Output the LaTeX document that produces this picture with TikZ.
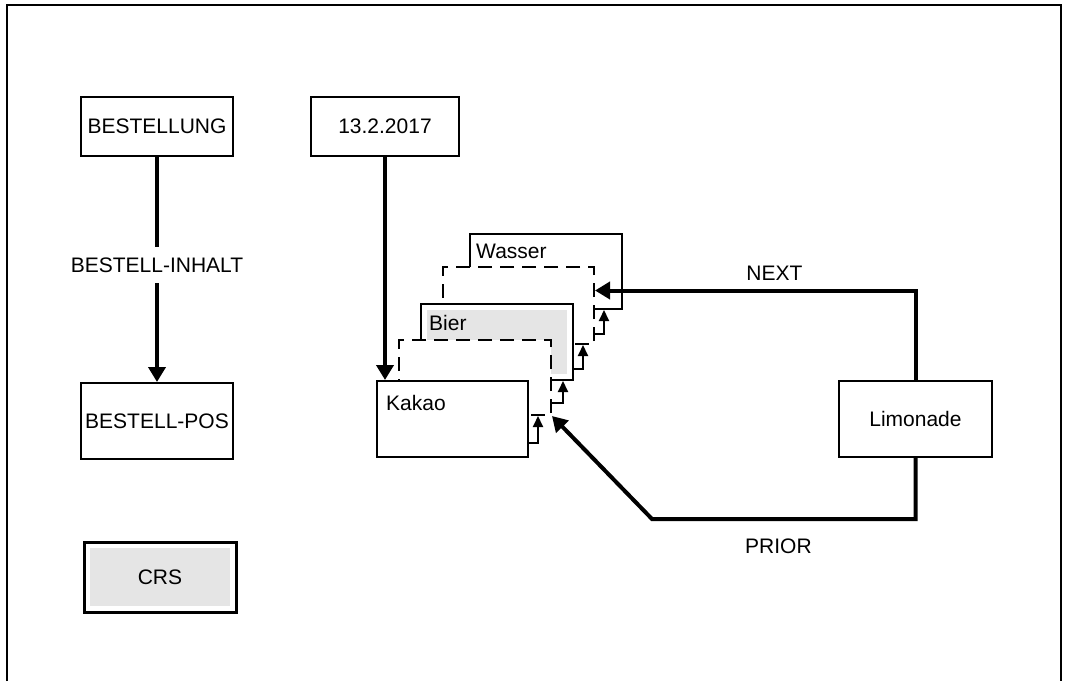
\documentclass[tikz,border=0pt]{standalone}
\usepackage{fontspec}
\setmainfont{Liberation Sans}
\usetikzlibrary{arrows.meta,positioning}

\begin{document}
\begin{tikzpicture}[x=1pt, y=-1pt, every node/.style={font=\fontsize{21}{25}\selectfont}]
\tikzset{box/.style={draw, line width=2pt, fill=white, minimum width=152pt, minimum height=76pt}}
\tikzset{luecke/.style={box, dash pattern=on 14pt off 8pt}}
\tikzset{grau/.style={box, path picture={\fill[black!10] ([shift={(6pt,-6pt)}]path picture bounding box.north west) rectangle ([shift={(-6pt,6pt)}]path picture bounding box.south east);}}}
\tikzset{zeiger/.style={line width=4pt, -{Triangle[length=15pt,width=17pt]}}}
\tikzset{stufe/.style={line width=2pt, -{Triangle[length=11pt,width=10pt]}}}
\tikzset{txt/.style={anchor=west, inner sep=0pt}}
\useasboundingbox (0,0) rectangle (1069,681);
\draw[line width=2pt] (7,681) |- (1061,5) -- (1061,681);
\node[box, minimum height=59pt] (bestellung) at (157,126.5) {BESTELLUNG};
\node[box] (bestellpos) at (157,421) {BESTELL-POS};
\node[box, minimum width=148pt, minimum height=59pt] (datum) at (385,126.5) {13.2.2017};
\node[grau, line width=3pt, minimum height=70pt] (crs) at (160,577) {CRS};
\node[box, minimum width=153pt] (limonade) at (915.5,419) {Limonade};
% Stapel von hinten nach vorn
\node[box, minimum height=75pt] (wasser) at (546,271.5) {};
\node[txt] (wassertxt) at ([xshift=7pt,yshift=-18pt]wasser.north west) {Wasser};
\node[luecke, minimum height=77pt, minimum width=151pt] (luecke2) at (518.5,305.5) {};
\node[grau] (bier) at (497,342) {};
\node[txt] (biertxt) at ([xshift=9pt,yshift=-20pt]bier.north west) {Bier};
\node[luecke, minimum height=75pt] (luecke1) at (475,377.5) {};
\node[box, minimum width=151pt] (kakao) at (452.5,419) {};
\node[txt] (kakaotxt) at ([xshift=10pt,yshift=-23pt]kakao.north west) {Kakao};
\draw[stufe] ([yshift=15pt]kakao.south east) -| ([xshift=9pt]kakao.south east |- luecke1.south);
\draw[stufe] ([yshift=13pt]luecke1.south east) -| ([xshift=11pt]luecke1.south east |- bier.south);
\draw[stufe] ([yshift=12pt]bier.south east) -| ([xshift=9pt]bier.south east |- luecke2.south);
\draw[stufe] ([yshift=11pt]luecke2.south east) -| ([xshift=9pt]luecke2.south east |- wasser.south);
% Zeiger
\draw[zeiger] (bestellung) -- node[fill=white, inner ysep=11pt, pos=0.48] (inhalt) {BESTELL-INHALT} (bestellpos);
\draw[zeiger] (datum) -- (datum.south |- kakao.north);
\draw[zeiger] (limonade.north) |- node[pos=0.72, above=5pt] (nextlabel) {NEXT} ([yshift=15pt]luecke2.east);
\coordinate (knick) at (652,519);
\draw[zeiger] (limonade.south) |- node[pos=0.76, below=14pt] (priorlabel) {PRIOR} (knick) -- (luecke1.south east);
\end{tikzpicture}
\end{document}
